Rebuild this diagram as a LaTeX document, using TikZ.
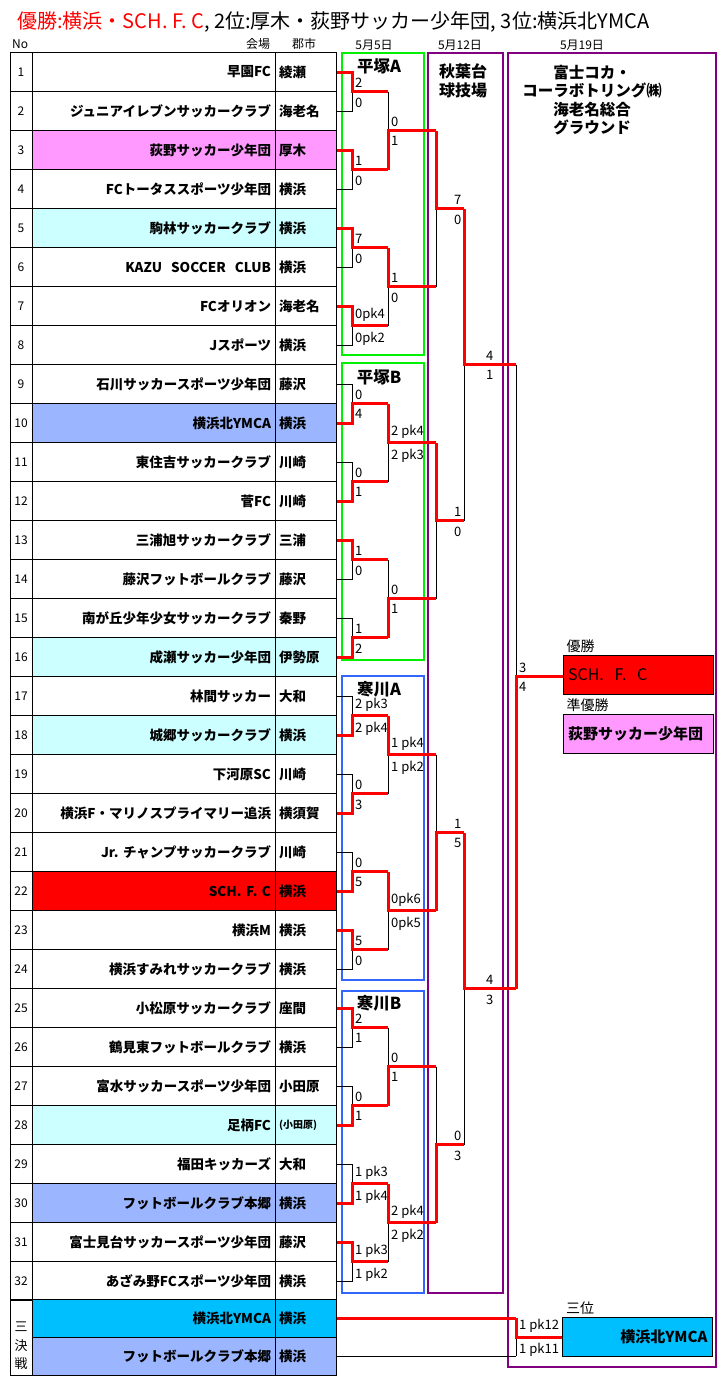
\documentclass[tikz,border=0pt]{standalone}
\usepackage{fontspec}
\setmainfont{Noto Sans CJK JP}
\usetikzlibrary{positioning}

\definecolor{pinkcell}{RGB}{255,153,255}
\definecolor{cyancell}{RGB}{204,255,255}
\definecolor{bluecell}{RGB}{155,181,255}
\definecolor{skycell}{RGB}{0,191,255}
\definecolor{boxgreen}{RGB}{0,240,0}
\definecolor{boxblue}{RGB}{51,102,255}
\definecolor{boxpurple}{RGB}{128,0,128}

\tikzset{
    cell/.style={draw, line width=1pt, minimum height=39pt, inner xsep=4pt, inner ysep=0pt},
    nocell/.style={cell, minimum width=22pt, inner xsep=0pt, font=\fontsize{12}{14}\selectfont},
    teamcell/.style={cell, text width=235pt, align=right, font=\bfseries\fontsize{13.5}{15}\selectfont},
    citycell/.style={cell, text width=53pt, align=left, font=\bfseries\fontsize{13.5}{15}\selectfont},
    bline/.style={black, line width=1pt},
    wline/.style={red, line width=3pt},
    score/.style={inner sep=1pt, font=\fontsize{13}{15}\selectfont},
    venuebox/.style={draw=#1, line width=2pt},
    venue/.style={inner sep=0pt, align=center, font=\bfseries\fontsize{16.5}{18.5}\selectfont},
    headtext/.style={inner sep=0pt, font=\fontsize{12}{14}\selectfont},
    resbox/.style={draw, line width=1pt, minimum height=39pt, text width=140pt, inner xsep=5pt, font=\fontsize{16}{18}\selectfont}
}

% one match: upper input, lower input, junction, next junction, winner input
\newcommand\bmatch[5]{%
    \draw[bline] (#1 -| #3) -- (#2 -| #3);
    \draw[wline] (#5 -| #3) -- (#3) -- (#3 -| #4);
}
\newcommand\scorepair[4]{%
    \node[score, anchor=south west] (#1-u) at ([xshift=#2, yshift=3]#1) {#3};
    \node[score, anchor=north west] (#1-l) at ([xshift=#2, yshift=-5]#1) {#4};
}

\begin{document}
\begin{tikzpicture}[x=1pt, y=-1pt]
    \useasboundingbox (0,0) rectangle (721,1379);

    \node[anchor=west, inner sep=0pt, font=\fontsize{20}{22}\selectfont] (title) at (17,22)
        {\textcolor{red}{優勝:横浜・SCH.\ F.\ C}, 2位:厚木・荻野サッカー少年団, 3位:横浜北YMCA};

    \node[headtext, anchor=west] (nohead) at (12,44) {No};
    \node[headtext] (venuehead) at (258,44) {会場};
    \node[headtext] (cityhead) at (304,44) {郡市};
    \node[headtext] (day1) at (374,45) {5月5日};
    \node[headtext] (day2) at (460,45) {5月12日};
    \node[headtext] (day3) at (582,45) {5月19日};

    % venues
    \draw[venuebox=boxgreen] (342,53) rectangle (424,355);
    \draw[venuebox=boxgreen] (342,363) rectangle (424,660);
    \draw[venuebox=boxblue] (342,676) rectangle (424,980);
    \draw[venuebox=boxblue] (342,991) rectangle (424,1293);
    \draw[venuebox=boxpurple] (428,53) rectangle (503,1293);
    \draw[venuebox=boxpurple] (508,53) rectangle (716,1367);
    \node[venue] (hirA) at (379,66) {平塚A};
    \node[venue] (hirB) at (379,377) {平塚B};
    \node[venue] (samA) at (379,689) {寒川A};
    \node[venue] (samB) at (379,1003) {寒川B};
    \node[venue, font=\bfseries\fontsize{16}{18.5}\selectfont] (akiba) at (463,81) {秋葉台\\球技場};
    \node[venue, font=\bfseries\fontsize{15.5}{18.5}\selectfont] (ebina) at (592,100) {富士コカ・\\コーラボトリング㈱\\海老名総合\\グラウンド};

    % teams
    \foreach \i/\team/\city/\col in {
        1/早園FC/綾瀬/white,
        2/ジュニアイレブンサッカークラブ/海老名/white,
        3/荻野サッカー少年団/厚木/pinkcell,
        4/FCトータススポーツ少年団/横浜/white,
        5/駒林サッカークラブ/横浜/cyancell,
        6/{KAZU\ \ SOCCER\ \ CLUB}/横浜/white,
        7/FCオリオン/海老名/white,
        8/Jスポーツ/横浜/white,
        9/石川サッカースポーツ少年団/藤沢/white,
        10/横浜北YMCA/横浜/bluecell,
        11/東住吉サッカークラブ/川崎/white,
        12/菅FC/川崎/white,
        13/三浦旭サッカークラブ/三浦/white,
        14/藤沢フットボールクラブ/藤沢/white,
        15/南が丘少年少女サッカークラブ/秦野/white,
        16/成瀬サッカー少年団/伊勢原/cyancell,
        17/林間サッカー/大和/white,
        18/城郷サッカークラブ/横浜/cyancell,
        19/下河原SC/川崎/white,
        20/横浜F・マリノスプライマリー追浜/横須賀/white,
        21/{Jr.\ チャンプサッカークラブ}/川崎/white,
        22/{SCH.\ F.\ C}/横浜/red,
        23/横浜M/横浜/white,
        24/横浜すみれサッカークラブ/横浜/white,
        25/小松原サッカークラブ/座間/white,
        26/鶴見東フットボールクラブ/横浜/white,
        27/富水サッカースポーツ少年団/小田原/white,
        28/足柄FC/{\fontsize{10}{12}\selectfont(小田原)}/cyancell,
        29/福田キッカーズ/大和/white,
        30/フットボールクラブ本郷/横浜/bluecell,
        31/富士見台サッカースポーツ少年団/藤沢/white,
        32/あざみ野FCスポーツ少年団/横浜/white} {
        \node[nocell] (no\i) at (21,33+39*\i) {\i};
        \node[teamcell, fill=\col] (tm\i) at (153.5,33+39*\i) {\team};
        \node[citycell, fill=\col] (ct\i) at (305.5,33+39*\i) {\city};
    }
    \node[nocell, minimum height=76pt] (no33) at (21,1337) {};
    \node[inner sep=0pt, align=center, font=\fontsize{13}{18.5}\selectfont] (sanketsu) at (21,1346) {三\\決\\戦};
    \node[teamcell, fill=skycell, minimum height=38pt] (tm33) at (153.5,1318) {横浜北YMCA};
    \node[citycell, fill=skycell, minimum height=38pt] (ct33) at (305.5,1318) {横浜};
    \node[teamcell, fill=bluecell, minimum height=38pt] (tm34) at (153.5,1356) {フットボールクラブ本郷};
    \node[citycell, fill=bluecell, minimum height=38pt] (ct34) at (305.5,1356) {横浜};

    % results
    \node[resbox, fill=red] (win) at (638,675) {SCH.\ \ F.\ \ C};
    \node[resbox, fill=pinkcell, below=19pt of win, font=\bfseries\fontsize{15}{17}\selectfont] (second) {荻野サッカー少年団};
    \node[resbox, fill=skycell, align=right, font=\bfseries\fontsize{15}{17}\selectfont] (third) at (637.5,1336.5) {横浜北YMCA};
    \node[headtext, font=\fontsize{14}{16}\selectfont, above right=2pt and 4pt of win.north west] (winlbl) {優勝};
    \node[headtext, font=\fontsize{14}{16}\selectfont, above right=2pt and 4pt of second.north west] (secondlbl) {準優勝};
    \node[headtext, font=\fontsize{14}{16}\selectfont, above right=2pt and 4pt of third.north west] (thirdlbl) {三位};

    % junctions
    \foreach \k in {1,...,16} \coordinate (a\k) at (352,13.5+78*\k);
    \foreach \k in {1,...,8} \coordinate (b\k) at (388,156*\k-25.5);
    \foreach \k in {1,...,4} \coordinate (c\k) at (436,312*\k-103.5);
    \foreach \k in {1,2} \coordinate (d\k) at (464,624*\k-259.5);
    \coordinate (f) at (516,676.5);
    \coordinate (g) at (516,1337);

    % first round
    \foreach \k/\w/\su/\sl in {1/1/2/0, 2/1/1/0, 3/1/7/0, 4/1/0pk4/0pk2,
            5/2/0/4, 6/2/0/1, 7/1/1/0, 8/2/1/2,
            9/2/{2 pk3}/{2 pk4}, 10/2/0/3, 11/2/0/5, 12/1/5/0,
            13/1/2/1, 14/2/0/1, 15/2/{1 pk3}/{1 pk4}, 16/1/{1 pk3}/{1 pk2}} {
        \pgfmathtruncatemacro\mup{2*\k-1}
        \pgfmathtruncatemacro\mlo{2*\k}
        \pgfmathtruncatemacro\mwin{2*\k-2+\w}
        \pgfmathtruncatemacro\mnext{(\k+1)/2}
        \draw[bline] (ct\mup.east) -- (ct\mup.east -| a\k) -- (ct\mlo.east -| a\k) -- (ct\mlo.east);
        \draw[wline] (ct\mwin.east) -- (ct\mwin.east -| a\k) -- (a\k) -- (a\k -| b\mnext);
        \scorepair{a\k}{2}{\su}{\sl}
    }

    % second round
    \foreach \k/\w/\su/\sl in {1/2/0/1, 2/1/1/0, 3/1/{2 pk4}/{2 pk3}, 4/2/0/1,
            5/1/{1 pk4}/{1 pk2}, 6/1/0pk6/0pk5, 7/2/0/1, 8/1/{2 pk4}/{2 pk2}} {
        \pgfmathtruncatemacro\mup{2*\k-1}
        \pgfmathtruncatemacro\mlo{2*\k}
        \pgfmathtruncatemacro\mwin{2*\k-2+\w}
        \pgfmathtruncatemacro\mnext{(\k+1)/2}
        \bmatch{a\mup}{a\mlo}{b\k}{c\mnext}{a\mwin}
        \scorepair{b\k}{2}{\su}{\sl}
    }

    % third round
    \foreach \k/\w/\su/\sl in {1/1/7/0, 2/1/1/0, 3/2/1/5, 4/2/0/3} {
        \pgfmathtruncatemacro\mup{2*\k-1}
        \pgfmathtruncatemacro\mlo{2*\k}
        \pgfmathtruncatemacro\mwin{2*\k-2+\w}
        \pgfmathtruncatemacro\mnext{(\k+1)/2}
        \bmatch{b\mup}{b\mlo}{c\k}{d\mnext}{b\mwin}
        \scorepair{c\k}{17}{\su}{\sl}
    }

    % semi-finals and final
    \bmatch{c1}{c2}{d1}{f}{c1}
    \scorepair{d1}{21}{4}{1}
    \bmatch{c3}{c4}{d2}{f}{c3}
    \scorepair{d2}{21}{4}{3}
    \bmatch{d1}{d2}{f}{win.west}{d2}
    \scorepair{f}{2}{3}{4}

    % third place
    \draw[bline] (ct34.east) -- (ct34.east -| g);
    \draw[wline] (ct33.east) -- (ct33.east -| g);
    \bmatch{ct33.east}{ct34.east}{g}{third.west}{ct33.east}
    \scorepair{g}{2}{1 pk12}{1 pk11}
\end{tikzpicture}
\end{document}
